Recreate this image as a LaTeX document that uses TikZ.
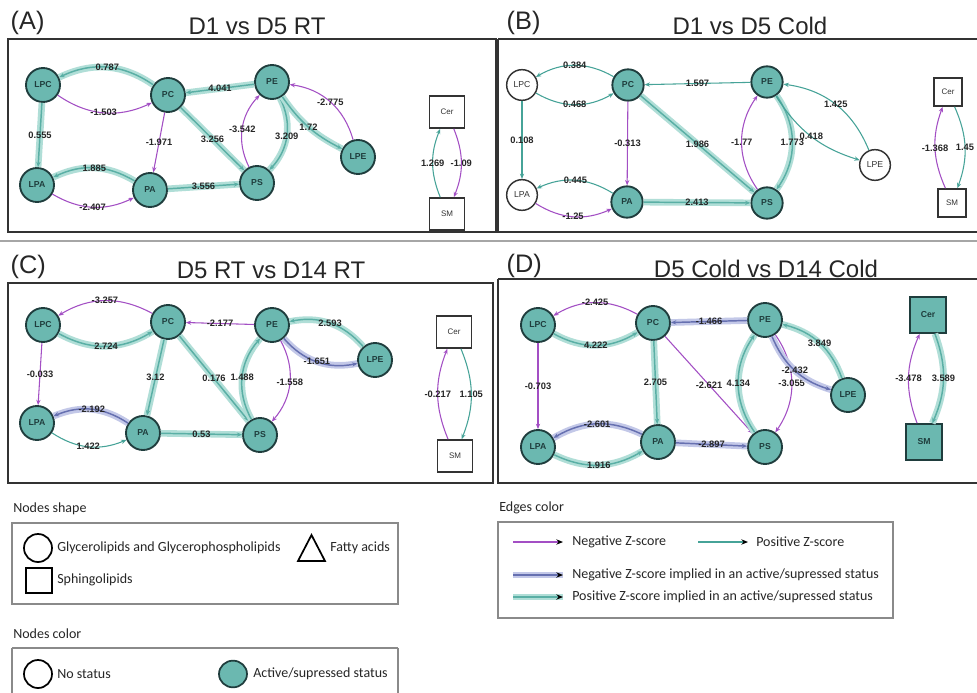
\documentclass[tikz,border=0pt]{standalone}
\usepackage{fontspec}
\setmainfont{Liberation Sans}
\newfontfamily\legfont{Carlito}
\usetikzlibrary{arrows.meta,shapes.geometric}
\definecolor{nodefill}{HTML}{6BB8B0}
\definecolor{nodeline}{HTML}{1F3D3D}
\definecolor{negc}{HTML}{A34FC4}
\definecolor{posc}{HTML}{46A398}
\definecolor{hpos}{HTML}{B0DED7}
\definecolor{hposl}{HTML}{5AAFA5}
\definecolor{hneg}{HTML}{C3C8E8}
\definecolor{hnegl}{HTML}{6670B0}
\definecolor{framec}{HTML}{333333}
\definecolor{legc}{HTML}{8A8A8A}
\begin{document}
\begin{tikzpicture}[x=0.75pt,y=0.75pt,
 cn/.style={circle,draw=nodeline,line width=1.4pt,minimum size=25.5pt,inner sep=0pt,font=\fontsize{6.5}{7}\selectfont\bfseries,text=nodeline},
 act/.style={cn,fill=nodefill},
 nos/.style={cn,fill=white,draw=framec,line width=1.1pt,minimum size=23pt,font=\fontsize{6.5}{7}\selectfont,text=black!80},
 sq/.style={rectangle,draw=framec,line width=1.2pt,minimum width=26pt,minimum height=24pt,inner sep=0pt,font=\fontsize{6}{7}\selectfont,text=black!80,fill=white},
 sqa/.style={sq,fill=nodefill,draw=nodeline,minimum width=27pt,minimum height=27pt,font=\fontsize{6.5}{7}\selectfont\bfseries,text=nodeline},
 lab/.style={font=\fontsize{7}{8}\selectfont\bfseries,text=black!85,inner sep=0.5pt},
 arrtip/.style={-{Stealth[length=4pt,width=3.2pt]}},
 negedge/.style={arrtip,draw=negc,line width=0.8pt},
 posedge/.style={arrtip,draw=posc,line width=0.8pt},
 hp/.style={arrtip,draw=hposl,line width=1.1pt,preaction={draw=hpos,line width=5pt,-}},
 hn/.style={arrtip,draw=hnegl,line width=1.1pt,preaction={draw=hneg,line width=5pt,-}},
 panelframe/.style={draw=framec,line width=1.5pt},
 ptitle/.style={font=\fontsize{18}{20}\selectfont,anchor=base,text=black!85},
 pletter/.style={font=\fontsize{19}{21}\selectfont,anchor=base west,text=black!85},
 legtext/.style={font=\legfont\fontsize{10.5}{12}\selectfont,anchor=west,text=black!85,inner sep=0pt},
 legbox/.style={draw=legc,line width=0.8pt},
 ltip/.style={-{Stealth[length=5pt,width=4pt,color=black]}}
]
\useasboundingbox (0,0) rectangle (977,-692);
\fill[white] (0,0) rectangle (977,-692);

% ---------- frames and titles ----------
\draw[panelframe] (8,-39) rectangle (496,-232);
\draw[panelframe] (498,-39) -- (985,-39) (498,-39) -- (498,-232) -- (985,-232);
\draw[panelframe] (8,-283) rectangle (493,-483);
\draw[panelframe] (498,-279) -- (985,-279) (498,-279) -- (498,-483) -- (985,-483);
\draw[draw=black!35,line width=0.8pt] (0,-241) -- (977,-241);

\node[pletter] (tA) at (6,-30) {(A)};
\node[ptitle] (hA) at (257,-35) {D1 vs D5 RT};
\node[pletter] (tB) at (502,-30) {(B)};
\node[ptitle] (hB) at (750,-35) {D1 vs D5 Cold};
\node[pletter] (tC) at (6,-273) {(C)};
\node[ptitle] (hC) at (271,-278) {D5 RT vs D14 RT};
\node[pletter] (tD) at (502,-272) {(D)};
\node[ptitle] (hD) at (766,-277) {D5 Cold vs D14 Cold};

% ---------- Panel A ----------
\node[act] (aLPC) at (43,-85) {LPC};
\node[act] (aPC) at (168,-95) {PC};
\node[act] (aPE) at (272,-82) {PE};
\node[act] (aLPE) at (358,-157) {LPE};
\node[act] (aPS) at (257,-183) {PS};
\node[act] (aPA) at (150,-190) {PA};
\node[act] (aLPA) at (37,-185) {LPA};
\node[sq] (aCer) at (447,-112) {Cer};
\node[sq] (aSM) at (447,-214) {SM};

\draw[hp] (aPC) to[bend right=30] node[lab]{0.787} (aLPC);
\draw[negedge] (aLPC) to[bend right=30] node[lab]{-1.503} (aPC);
\draw[hp] (aPE) -- node[lab]{4.041} (aPC);
\draw[hp] (aLPC) -- node[lab]{0.555} (aLPA);
\draw[negedge] (aPC) -- node[lab]{-1.971} (aPA);
\draw[hp] (aPC) -- node[lab]{3.256} (aPS);
\draw[negedge] (aPS) to[bend left=35] node[lab]{-3.542} (aPE);
\draw[hp] (aPE) to[bend left=35] node[lab]{3.209} (aPS);
\draw[hp] (aPE) to[bend right=14] node[lab]{1.72} (aLPE);
\draw[negedge] (aLPE) to[bend right=33] node[lab]{-2.775} (aPE);
\draw[hp] (aPA) to[bend right=28] node[lab]{1.885} (aLPA);
\draw[negedge] (aLPA) to[bend right=28] node[lab]{-2.407} (aPA);
\draw[hp] (aPA) -- node[lab]{3.556} (aPS);
\draw[posedge] (aSM) to[bend left=22] node[lab]{1.269} (aCer);
\draw[negedge] (aCer) to[bend left=22] node[lab]{-1.09} (aSM);

% ---------- Panel B ----------
\node[nos] (bLPC) at (522,-85) {LPC};
\node[act,minimum size=23.5pt] (bPC) at (628,-85) {PC};
\node[act,minimum size=23.5pt] (bPE) at (767,-82) {PE};
\node[nos] (bLPE) at (875,-165) {LPE};
\node[act,minimum size=23.5pt] (bPS) at (767,-203) {PS};
\node[act,minimum size=23.5pt] (bPA) at (627,-202) {PA};
\node[nos] (bLPA) at (522,-195) {LPA};
\node[sq,minimum width=21pt,minimum height=21pt] (bCer) at (948,-92) {Cer};
\node[sq,minimum width=21pt,minimum height=21pt] (bSM) at (952,-203) {SM};

\draw[posedge] (bPC) to[bend right=30] node[lab]{0.384} (bLPC);
\draw[posedge] (bLPC) to[bend right=30] node[lab]{0.468} (bPC);
\draw[posedge] (bPE) -- node[lab]{1.597} (bPC);
\draw[posedge] (bLPC) -- node[lab]{0.108} (bLPA);
\draw[negedge] (bPC) -- node[lab]{-0.313} (bPA);
\draw[hp] (bPC) -- node[lab]{1.986} (bPS);
\draw[negedge] (bPS) to[bend left=35] node[lab]{-1.77} (bPE);
\draw[hp] (bPE) to[bend left=35] node[lab]{1.773} (bPS);
\draw[posedge] (bPE) to[bend right=20] node[lab]{0.418} (bLPE);
\draw[posedge] (bLPE) to[bend right=30] node[lab]{1.425} (bPE);
\draw[posedge] (bPA) to[bend right=28] node[lab]{0.445} (bLPA);
\draw[negedge] (bLPA) to[bend right=28] node[lab]{-1.25} (bPA);
\draw[hp] (bPA) -- node[lab]{2.413} (bPS);
\draw[negedge] (bSM) to[bend left=22] node[lab]{-1.368} (bCer);
\draw[posedge] (bCer) to[bend left=22] node[lab]{1.45} (bSM);

% ---------- Panel C ----------
\node[act] (cLPC) at (43,-325) {LPC};
\node[act] (cPC) at (168,-322) {PC};
\node[act] (cPE) at (272,-325) {PE};
\node[act] (cLPE) at (375,-360) {LPE};
\node[act] (cPS) at (260,-435) {PS};
\node[act] (cPA) at (143,-433) {PA};
\node[act] (cLPA) at (37,-423) {LPA};
\node[sq] (cCer) at (454,-332) {Cer};
\node[sq] (cSM) at (455,-456) {SM};

\draw[negedge] (cPC) to[bend right=30] node[lab]{-3.257} (cLPC);
\draw[hp] (cLPC) to[bend right=30] node[lab]{2.724} (cPC);
\draw[negedge] (cPE) -- node[lab]{-2.177} (cPC);
\draw[negedge] (cLPC) -- node[lab]{-0.033} (cLPA);
\draw[hp] (cPC) -- node[lab]{3.12} (cPA);
\draw[hp] (cPC) -- node[lab]{0.176} (cPS);
\draw[hp] (cPS) to[bend left=35] node[lab]{1.488} (cPE);
\draw[negedge] (cPE) to[bend left=35] node[lab]{-1.558} (cPS);
\draw[hp] (cLPE) to[bend right=30] node[lab]{2.593} (cPE);
\draw[hn] (cPE) to[bend right=30] node[lab]{-1.651} (cLPE);
\draw[hn] (cPA) to[bend right=28] node[lab]{-2.192} (cLPA);
\draw[posedge] (cLPA) to[bend right=28] node[lab]{1.422} (cPA);
\draw[hp] (cPA) -- node[lab]{0.53} (cPS);
\draw[negedge] (cSM) to[bend left=22] node[lab]{-0.217} (cCer);
\draw[posedge] (cCer) to[bend left=22] node[lab]{1.105} (cSM);

% ---------- Panel D ----------
\node[act] (dLPC) at (538,-325) {LPC};
\node[act] (dPC) at (653,-323) {PC};
\node[act] (dPE) at (765,-320) {PE};
\node[act] (dLPE) at (848,-395) {LPE};
\node[act] (dPS) at (765,-447) {PS};
\node[act] (dPA) at (658,-442) {PA};
\node[act] (dLPA) at (538,-447) {LPA};
\node[sqa] (dCer) at (928,-315) {Cer};
\node[sqa] (dSM) at (924,-442) {SM};

\draw[negedge] (dPC) to[bend right=30] node[lab]{-2.425} (dLPC);
\draw[hp] (dLPC) to[bend right=30] node[lab]{4.222} (dPC);
\draw[hn] (dPE) -- node[lab]{-1.466} (dPC);
\draw[negedge] (dLPC) -- node[lab]{-0.703} (dLPA);
\draw[hp] (dPC) -- node[lab]{2.705} (dPA);
\draw[negedge] (dPC) -- node[lab]{-2.621} (dPS);
\draw[hp] (dPS) to[bend left=35] node[lab]{4.134} (dPE);
\draw[negedge] (dPE) to[bend left=35] node[lab]{-3.055} (dPS);
\draw[hp] (dLPE) to[bend right=28] node[lab]{3.849} (dPE);
\draw[hn] (dPE) to[bend right=25] node[lab]{-2.432} (dLPE);
\draw[hn] (dPA) to[bend right=28] node[lab]{-2.601} (dLPA);
\draw[hp] (dLPA) to[bend right=28] node[lab]{1.916} (dPA);
\draw[hn] (dPA) -- node[lab]{-2.897} (dPS);
\draw[negedge] (dSM) to[bend left=22] node[lab]{-3.478} (dCer);
\draw[hp] (dCer) to[bend left=22] node[lab]{3.589} (dSM);

% ---------- Legend: node shape ----------
\node[legtext] (lns) at (13,-509) {Nodes shape};
\draw[legbox] (12,-523) rectangle (398,-604);
\node[circle,draw=black,line width=1.3pt,minimum size=21pt,inner sep=0pt] (lcirc) at (38,-548) {};
\node[legtext] (lgly) at (57,-548) {Glycerolipids and Glycerophospholipids};
\draw[black,line width=1.3pt,line join=miter] (298,-561) -- (325,-561) -- (311.5,-535) -- cycle;
\node[legtext] (lfat) at (330,-548) {Fatty acids};
\node[rectangle,draw=black,line width=1.3pt,minimum width=19.5pt,minimum height=19pt,inner sep=0pt] (lsq) at (39,-580.5) {};
\node[legtext] (lsph) at (57,-580) {Sphingolipids};

% ---------- Legend: node color ----------
\node[legtext] (lnc) at (13,-634) {Nodes color};
\draw[legbox] (12,-648) -- (398,-648) (12,-648) -- (12,-700) (398,-648) -- (398,-700);
\node[circle,draw=black,line width=1.3pt,minimum size=21pt,inner sep=0pt] (lno) at (38,-674) {};
\node[legtext] (lnot) at (57,-674) {No status};
\node[ellipse,draw=nodeline,fill=nodefill,line width=1.3pt,minimum width=21pt,minimum height=20pt,inner sep=0pt] (lact) at (233,-674) {};
\node[legtext] (lactt) at (253,-674) {Active/supressed status};

% ---------- Legend: edge color ----------
\node[legtext] (lec) at (499,-508) {Edges color};
\draw[legbox] (498,-522) rectangle (893,-618);
\coordinate (e1a) at (513,-542); \coordinate (e1b) at (563,-542);
\coordinate (e2a) at (698,-542); \coordinate (e2b) at (748,-542);
\coordinate (e3a) at (513,-575); \coordinate (e3b) at (563,-575);
\coordinate (e4a) at (513,-597); \coordinate (e4b) at (563,-597);
\draw[ltip,draw=negc,line width=0.8pt] (e1a) -- (e1b);
\node[legtext] (le1) at (572,-542) {Negative Z-score};
\draw[ltip,draw=posc,line width=0.8pt] (e2a) -- (e2b);
\node[legtext] (le2) at (756,-542) {Positive Z-score};
\draw[ltip,draw=hnegl,line width=1.2pt,preaction={draw=hneg,line width=4.5pt,-}] (e3a) -- (e3b);
\node[legtext] (le3) at (572,-575) {Negative Z-score implied in an active/supressed status};
\draw[ltip,draw=hposl,line width=1.2pt,preaction={draw=hpos,line width=4.5pt,-}] (e4a) -- (e4b);
\node[legtext] (le4) at (572,-597) {Positive Z-score implied in an active/supressed status};
\end{tikzpicture}
\end{document}
